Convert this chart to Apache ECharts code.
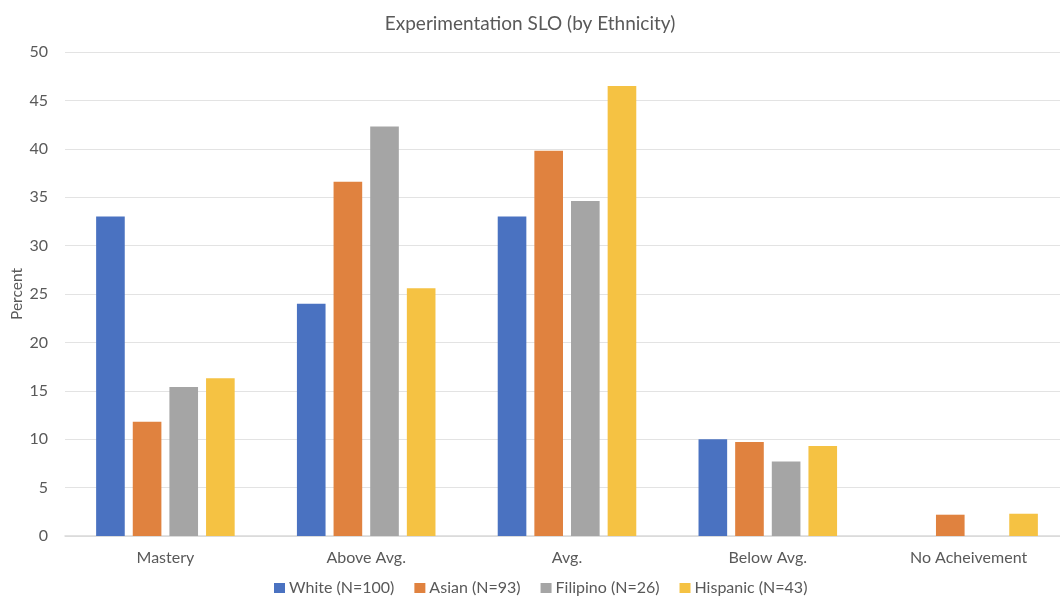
<!DOCTYPE html>
<html>
<head>
<meta charset="utf-8">
<script src="https://cdn.jsdelivr.net/npm/echarts@6/dist/echarts.min.js"></script>
<style>
  html, body { margin: 0; padding: 0; background: #ffffff; }
  #chart { width: 1060px; height: 599px; }
</style>
</head>
<body>
<div id="chart"></div>
<script>
// Achievement levels on the x axis
const categories = ['Mastery', 'Above Avg.', 'Avg.', 'Below Avg.', 'No Acheivement'];

// Percent of students in each level, per ethnic group
const white    = [33, 24, 33, 10, 0];
const asian    = [11.8, 36.6, 39.8, 9.7, 2.2];
const filipino = [15.4, 42.3, 34.6, 7.7, 0];
const hispanic = [16.3, 25.6, 46.5, 9.3, 2.3];

const seriesNames = ['White (N=100)', 'Asian (N=93)', 'Filipino (N=26)', 'Hispanic (N=43)'];
const seriesValues = [white, asian, filipino, hispanic];
const colors = ['#4A72C1', '#E0823F', '#A5A5A5', '#F5C243'];

const FONT = 'Lato, "Open Sans", sans-serif';
const TEXT = '#595959';

const chart = echarts.init(document.getElementById('chart'));
chart.setOption({
  animation: false,
  color: colors,
  textStyle: { fontFamily: FONT },
  title: {
    text: 'Experimentation SLO (by Ethnicity)',
    left: 'center',
    top: 9,
    textStyle: { fontFamily: FONT, fontSize: 19, fontWeight: 'normal', color: TEXT }
  },
  legend: {
    bottom: -2,
    left: 269,
    itemWidth: 11,
    itemHeight: 10,
    itemGap: 20,
    icon: 'rect',
    textStyle: { fontFamily: FONT, fontSize: 16, color: TEXT, padding: [0, 0, 0, -1] },
    data: seriesNames
  },
  // the plot runs slightly past the right edge of the canvas
  grid: { left: 65, width: 1004, top: 52, bottom: 63, containLabel: false, outerBoundsMode: 'none' },
  xAxis: {
    type: 'category',
    data: categories,
    axisTick: { show: false },
    axisLine: { lineStyle: { color: '#D9D9D9', width: 1.5 } },
    axisLabel: { color: TEXT, fontSize: 16, fontFamily: FONT, margin: 14 }
  },
  yAxis: {
    type: 'value',
    min: 0,
    max: 50,
    interval: 5,
    name: 'Percent',
    nameLocation: 'middle',
    nameGap: 40,
    nameRotate: 90,
    nameMoveOverlap: false,
    nameTextStyle: { color: TEXT, fontSize: 15.5, fontFamily: FONT },
    axisLabel: { color: TEXT, fontSize: 16, fontFamily: FONT, margin: 17 },
    axisLine: { show: false },
    axisTick: { show: false },
    splitLine: { lineStyle: { color: '#E3E3E3', width: 1.2 } }
  },
  series: seriesValues.map((vals, i) => ({
    name: seriesNames[i],
    type: 'bar',
    data: vals,
    barGap: '28%',
    barCategoryGap: '31%',
    itemStyle: { color: colors[i] }
  }))
});
</script>
</body>
</html>
